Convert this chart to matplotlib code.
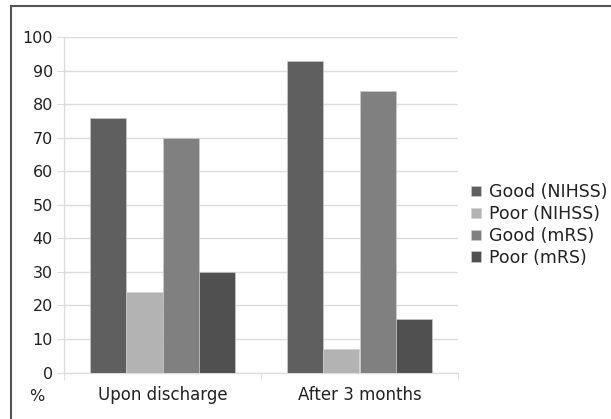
import numpy as np
import matplotlib.pyplot as plt
from matplotlib.lines import Line2D

categories = ["Upon discharge", "After 3 months"]
series_names = ["Good (NIHSS)", "Poor (NIHSS)", "Good (mRS)", "Poor (mRS)"]
good_nihss = [76, 93]
poor_nihss = [24, 7]
good_mrs = [70, 84]
poor_mrs = [30, 16]
colors = ["#5f5f5f", "#b3b3b3", "#808080", "#505050"]

plt.rcParams["font.family"] = "DejaVu Sans"

fig = plt.figure(figsize=(6.11, 4.19), dpi=100)
ax = fig.add_axes([64/611, 1-372.5/419, (458-64)/611, (372.5-37.3)/419])

x = np.arange(len(categories))
w = 0.183
series = [good_nihss, poor_nihss, good_mrs, poor_mrs]
for k, vals in enumerate(series):
    ax.bar(x + (k-1.5)*w, vals, width=w, color=colors[k], label=series_names[k],
           edgecolor="#d0d0d0", linewidth=0.4, zorder=3)

ax.set_xlim(-0.5, 1.5)
ax.set_ylim(0, 100)
ax.set_yticks(np.arange(0, 101, 10))
ax.grid(axis="y", color="#dcdcdc", linewidth=1, zorder=0)
ax.tick_params(axis="y", length=5, color="#dcdcdc", labelsize=11.5, pad=3, labelcolor="#222222")
ax.set_xticks(x)
ax.set_xticklabels(categories)
ax.set_xticks([-0.5, 0.5, 1.5], minor=True)
ax.tick_params(axis="x", which="major", length=0, labelsize=12, pad=10, labelcolor="#222222")
ax.tick_params(axis="x", which="minor", length=5, color="#dcdcdc")
for s in ["top", "right"]:
    ax.spines[s].set_visible(False)
for s in ["left", "bottom"]:
    ax.spines[s].set_color("#dcdcdc")
    ax.spines[s].set_linewidth(1)

fig.text(37/611, 1-396/419, "%", ha="center", va="center", fontsize=11.5, color="#222222")

ax.legend(loc="center left", bbox_to_anchor=(471/611, 1-225/419), bbox_transform=fig.transFigure,
          frameon=False, fontsize=12.5, handlelength=0.55, handleheight=0.55, handletextpad=0.5,
          labelspacing=0.22, borderpad=0, borderaxespad=0, labelcolor="#222222")

# outer frame, top and left edges only
fig.add_artist(Line2D([11/611, 1], [1-6/419, 1-6/419], color="#555555", lw=1.5))
fig.add_artist(Line2D([11/611, 11/611], [0, 1-6/419], color="#555555", lw=1.5))

fig.savefig("out.png", dpi=100)
